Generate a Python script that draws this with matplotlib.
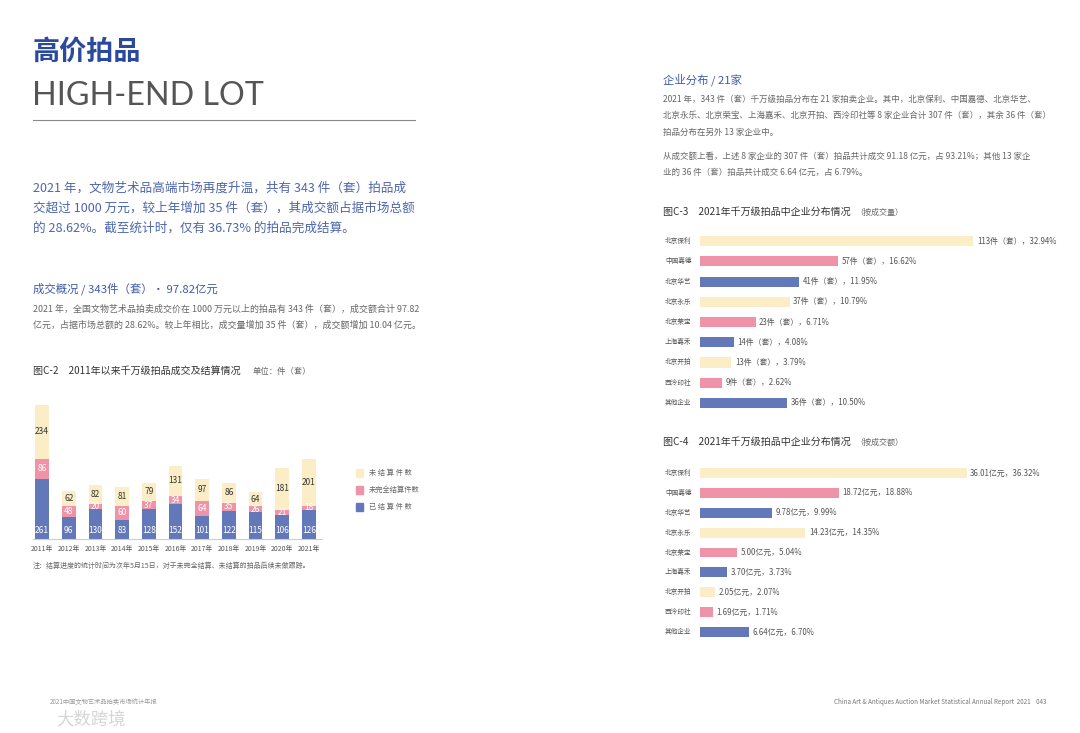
import matplotlib
matplotlib.use("Agg")
import matplotlib.pyplot as plt
from matplotlib import transforms
from matplotlib.patches import Rectangle

plt.rcParams['font.family'] = ['Noto Sans CJK SC', 'DejaVu Sans']

# ---- data: 图C-2
years = ["2011年", "2012年", "2013年", "2014年", "2015年", "2016年",
         "2017年", "2018年", "2019年", "2020年", "2021年"]
settled = [261, 96, 130, 83, 128, 152, 101, 122, 115, 106, 126]
partial = [86, 48, 20, 60, 37, 34, 64, 35, 26, 21, 18]
unsettled = [234, 62, 82, 81, 79, 131, 97, 86, 64, 181, 201]
legend_labels = ["未 结 算 件 数", "未完全结算件数", "已 结 算 件 数"]

# ---- data: 图C-3 / 图C-4
companies = ["北京保利", "中国嘉德", "北京华艺", "北京永乐", "北京荣宝",
             "上海嘉禾", "北京开拍", "西泠印社", "其他企业"]
lot_counts = [113, 57, 41, 37, 23, 14, 13, 9, 36]
lot_pct = [32.94, 16.62, 11.95, 10.79, 6.71, 4.08, 3.79, 2.62, 10.50]
amounts = [36.01, 18.72, 9.78, 14.23, 5.00, 3.70, 2.05, 1.69, 6.64]
amount_pct = [36.32, 18.88, 9.99, 14.35, 5.04, 3.73, 2.07, 1.71, 6.70]

YEL = "#fbeec6"
PNK = "#ef93a9"
BLU = "#6378b9"
TITLE_BLUE = "#2c4a9b"
PARA_BLUE = "#4c66ad"
GRAY = "#666666"
DARK = "#333333"

W, H = 1080, 733
fig = plt.figure(figsize=(10.8, 7.33), dpi=100)


def ftext(x, y, s, **kw):
    # place text by pixel position of the page
    kw.setdefault("va", "center")
    return fig.text(x / W, 1 - y / H, s, **kw)


# ---- left header
ftext(33, 52, "高价拍品", fontsize=19.5, fontweight="bold", color=TITLE_BLUE)
ftext(32, 96, "HIGH-END LOT", fontsize=23.2, color="#555555",
      family=["Lato", "DejaVu Sans"])
fig.add_artist(plt.Line2D([33 / W, 415 / W], [1 - 120 / H, 1 - 120 / H],
                          color="#888888", lw=0.8))

intro = ["2021 年，文物艺术品高端市场再度升温，共有 343 件（套）拍品成",
         "交超过 1000 万元，较上年增加 35 件（套），其成交额占据市场总额",
         "的 28.62%。截至统计时，仅有 36.73% 的拍品完成结算。"]
for k, line in enumerate(intro):
    ftext(33, 188 + k * 20, line, fontsize=9.05, color=PARA_BLUE)

ftext(33, 289, "成交概况 / 343件（套）· 97.82亿元", fontsize=8.2, color="#3f5aa8")
body1 = ["2021 年，全国文物艺术品拍卖成交价在 1000 万元以上的拍品有 343 件（套），成交额合计 97.82",
         "亿元，占据市场总额的 28.62%。较上年相比，成交量增加 35 件（套），成交额增加 10.04 亿元。"]
for k, line in enumerate(body1):
    ftext(33, 309 + k * 16, line, fontsize=6.45, color=GRAY)

ftext(33, 371, "图C-2　2011年以来千万级拍品成交及结算情况", fontsize=7.2, color=DARK)
ftext(253, 371, "单位：件（套）", fontsize=6, color=GRAY)

# ---- 图C-2 stacked bars
ax2 = fig.add_axes([33 / W, 1 - 539 / H, (322 - 33) / W, (539 - 405) / H])
x = list(range(len(years)))
mid = [s + p for s, p in zip(settled, partial)]
totals = [m + u for m, u in zip(mid, unsettled)]
ax2.bar(x, settled, width=0.52, color=BLU)
ax2.bar(x, partial, width=0.52, bottom=settled, color=PNK)
ax2.bar(x, unsettled, width=0.52, bottom=mid, color=YEL)
for i in x:
    ax2.annotate(str(settled[i]), (i, 0), xytext=(0, 6), textcoords="offset points",
                 ha="center", va="center", fontsize=6, color="white")
    ax2.text(i, settled[i] + partial[i] / 2, str(partial[i]), ha="center", va="center",
             fontsize=6, color="white")
    ax2.text(i, mid[i] + unsettled[i] / 2, str(unsettled[i]), ha="center", va="center",
             fontsize=6, color=DARK)
ax2.set_xlim(-0.34, 10.49)
ax2.set_ylim(0, max(totals))
ax2.set_xticks(x, years)
ax2.tick_params(axis="x", length=0, pad=4, labelsize=4.9, colors="#555555")
ax2.set_yticks([])
for sp in ["top", "left", "right"]:
    ax2.spines[sp].set_visible(False)
ax2.spines["bottom"].set_color("#cccccc")
ax2.spines["bottom"].set_linewidth(0.8)
ax2.patch.set_alpha(0)

for k, (lab, col) in enumerate(zip(legend_labels, [YEL, PNK, BLU])):
    y = 473 + k * 17
    fig.add_artist(Rectangle((356 / W, 1 - (y + 4) / H), 7 / W, 8 / H,
                             transform=fig.transFigure, color=col))
    ftext(369, y, lab, fontsize=5.2, color=GRAY)

ftext(33, 566, "注：结算进度的统计时间为次年5月15日，对于未完全结算、未结算的拍品后续未做跟踪。",
      fontsize=5, color=GRAY)

# ---- right header text
ftext(663, 80, "企业分布 / 21家", fontsize=8.2, color="#3f5aa8")
body2 = ["2021 年，343 件（套）千万级拍品分布在 21 家拍卖企业。其中，北京保利、中国嘉德、北京华艺、",
         "北京永乐、北京荣宝、上海嘉禾、北京开拍、西泠印社等 8 家企业合计 307 件（套），其余 36 件（套）",
         "拍品分布在另外 13 家企业中。"]
for k, line in enumerate(body2):
    ftext(663, 99 + k * 16.5, line, fontsize=6.1, color=GRAY)
body3 = ["从成交额上看，上述 8 家企业的 307 件（套）拍品共计成交 91.18 亿元，占 93.21%；其他 13 家企",
         "业的 36 件（套）拍品共计成交 6.64 亿元，占 6.79%。"]
for k, line in enumerate(body3):
    ftext(663, 156 + k * 16.5, line, fontsize=6.1, color=GRAY)

bar_colors = [YEL, PNK, BLU] * 3


def company_chart(top, bottom, values, labels, xmax):
    ax = fig.add_axes([700 / W, 1 - bottom / H, 300 / W, (bottom - top) / H])
    rows = list(range(len(values)))
    ax.barh(rows, values, height=0.5, color=bar_colors)
    ax.set_ylim(len(values) - 0.5, -0.5)
    ax.set_xlim(0, xmax)
    tr = transforms.blended_transform_factory(fig.transFigure, ax.transData)
    for i in rows:
        ax.text(665 / W, i, companies[i], transform=tr, ha="left", va="center",
                fontsize=4.8, color="#555555")
        ax.annotate(labels[i], (values[i], i), xytext=(2.5, 0), textcoords="offset points",
                    ha="left", va="center", fontsize=5.7, color="#555555")
    ax.axis("off")
    return ax


ftext(663, 212, "图C-3　2021年千万级拍品中企业分布情况", fontsize=7.2, color=DARK)
ftext(855, 212, "（按成交量）", fontsize=5.8, color=GRAY)
company_chart(231, 413, lot_counts,
              [f"{c}件（套），{p:.2f}%" for c, p in zip(lot_counts, lot_pct)], 124)

ftext(663, 442, "图C-4　2021年千万级拍品中企业分布情况", fontsize=7.2, color=DARK)
ftext(855, 442, "（按成交额）", fontsize=5.8, color=GRAY)
company_chart(463, 642, amounts,
              [f"{a:.2f}亿元，{p:.2f}%" for a, p in zip(amounts, amount_pct)], 40.5)

# ---- footer
ftext(50, 702, "2021中国文物艺术品拍卖市场统计年报", fontsize=4.5, color="#999999")
ftext(56, 719, "大数跨境", fontsize=12.5, color="#bbbbbb", alpha=0.6)
ftext(1047, 702, "China Art & Antiques Auction Market Statistical Annual Report  2021    043",
      fontsize=4.5, color="#777777", ha="right")

fig.savefig("out.png", dpi=100, facecolor="white")
